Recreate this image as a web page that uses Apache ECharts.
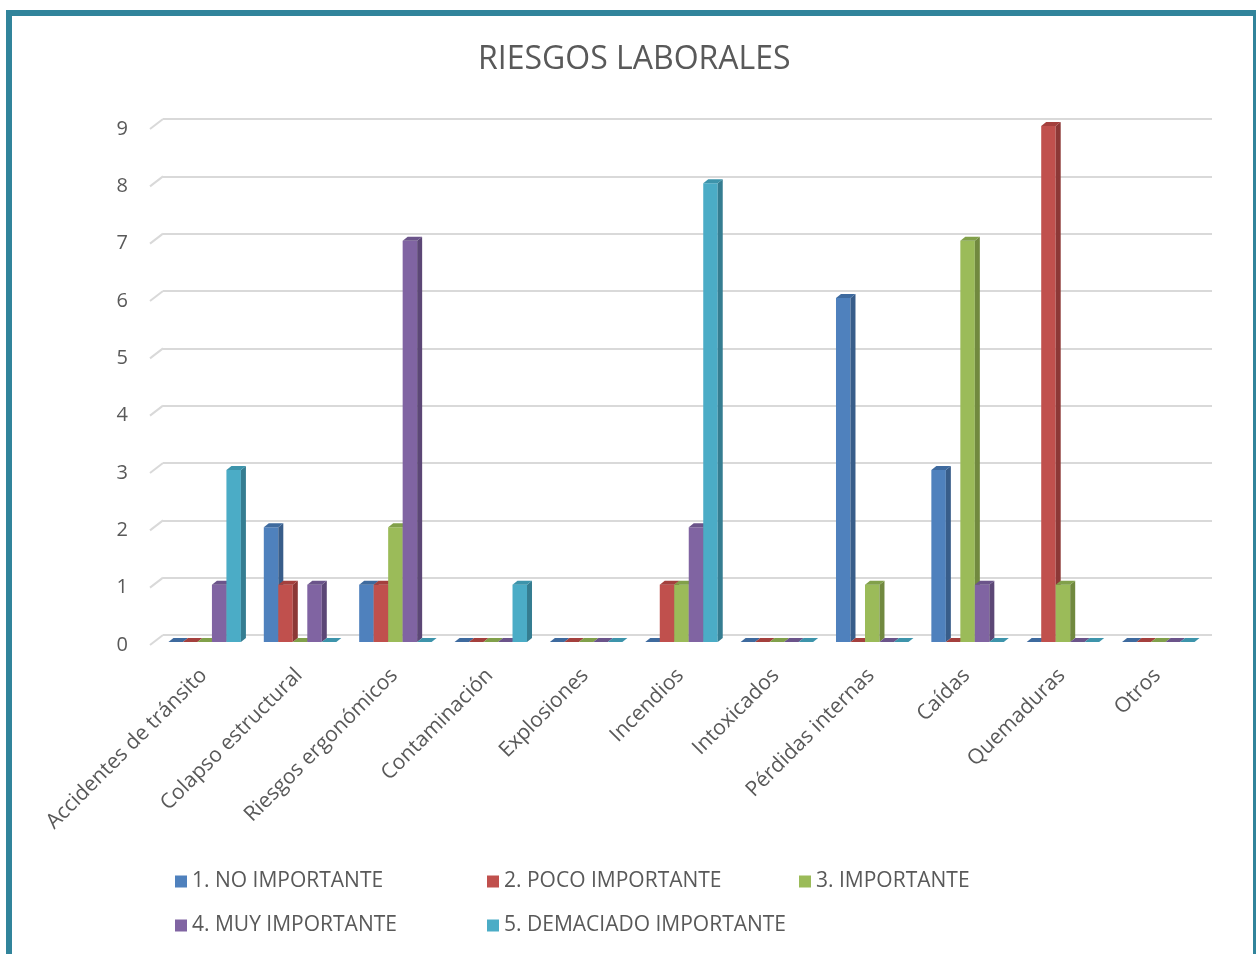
<!DOCTYPE html>
<html>
<head>
<meta charset="utf-8">
<title>Riesgos laborales</title>
<script src="https://cdn.jsdelivr.net/npm/echarts@6/dist/echarts.min.js"></script>
<style>
html, body { margin: 0; padding: 0; background: #fff; }
#frame {
	position: absolute; left: 6px; top: 10px; width: 1241px; height: 960px;
	border-top: 6px solid #31849B; border-left: 6px solid #31849B; border-right: 3px solid #31849B;
}
#chart { position: absolute; left: 0; top: 0; width: 1257px; height: 954px; }
</style>
</head>
<body>
<div id="frame"></div>
<div id="chart"></div>
<script>
var categorias = ['Accidentes de tránsito', 'Colapso estructural', 'Riesgos ergonómicos', 'Contaminación', 'Explosiones',
	'Incendios', 'Intoxicados', 'Pérdidas internas', 'Caídas', 'Quemaduras', 'Otros'];
var nombres = ['1. NO IMPORTANTE', '2. POCO IMPORTANTE', '3. IMPORTANTE', '4. MUY IMPORTANTE', '5. DEMACIADO IMPORTANTE'];
var noImportante = [0, 2, 1, 0, 0, 0, 0, 6, 3, 0, 0];
var pocoImportante = [0, 1, 1, 0, 0, 1, 0, 0, 0, 9, 0];
var importante = [0, 0, 2, 0, 0, 1, 0, 1, 7, 1, 0];
var muyImportante = [1, 1, 7, 0, 0, 2, 0, 0, 1, 0, 0];
var demaciadoImportante = [3, 0, 0, 1, 0, 8, 0, 0, 0, 0, 0];
var yTicks = [0, 1, 2, 3, 4, 5, 6, 7, 8, 9];

var valores = [noImportante, pocoImportante, importante, muyImportante, demaciadoImportante];
var colores = ['#4F81BD', '#C0504D', '#9BBB59', '#8064A2', '#4BACC6'];
var lados = ['#385D8A', '#8C3836', '#71893F', '#5C4776', '#357D91'];   // cara lateral
var tapas = ['#3E6A9E', '#A4403D', '#81A04A', '#6B548A', '#3D94AB'];   // cara superior

var SHIFT_X = -6, SHIFT_Y = 7;   // plano frontal respecto a la pared
var DX = 5, DY = 4;              // profundidad de la barra

function barra(si) {
	return function (params, api) {
		var cat = api.value(0), val = api.value(1);
		var band = api.size([1, 0])[0];
		var bw = band * 0.152;
		var p = api.coord([cat, val]);
		var b = api.coord([cat, 0]);
		var x = p[0] - 2.5 * bw + si * bw + SHIFT_X;
		var yt = p[1] + SHIFT_Y, yb = b[1] + SHIFT_Y;
		var hijos = [];
		if (yb - yt > 0.5) {
			hijos.push({
				type: 'rect',
				shape: { x: x, y: yt, width: bw, height: yb - yt },
				style: { fill: colores[si] }
			});
			hijos.push({
				type: 'polygon',
				shape: { points: [[x + bw, yt], [x + bw + DX, yt - DY], [x + bw + DX, yb - DY], [x + bw, yb]] },
				style: { fill: lados[si] }
			});
		}
		hijos.push({
			type: 'polygon',
			shape: { points: [[x, yt], [x + DX, yt - DY], [x + bw + DX, yt - DY], [x + bw, yt]] },
			style: { fill: tapas[si] }
		});
		return { type: 'group', children: hijos };
	};
}

function pared(params, api) {
	var p = api.coord([0, api.value(1)]);
	var x0 = params.coordSys.x;
	return {
		type: 'line',
		shape: { x1: x0 - 13, y1: p[1] + 10, x2: x0, y2: p[1] },
		style: { stroke: '#D9D9D9', lineWidth: 2 }
	};
}

var series = [{
	name: 'pared',
	type: 'custom',
	silent: true,
	renderItem: pared,
	data: yTicks.map(function (v) { return [0, v]; }),
	z: 1
}];
valores.forEach(function (arr, i) {
	series.push({
		name: nombres[i],
		type: 'custom',
		renderItem: barra(i),
		itemStyle: { color: colores[i] },
		data: arr.map(function (v, j) { return [j, v]; }),
		z: 2
	});
});

var legendCols = [175, 487, 799];
var legendRows = [871, 915];
var legends = nombres.map(function (n, i) {
	return {
		data: [n],
		left: legendCols[i % 3],
		top: legendRows[Math.floor(i / 3)],
		padding: 0,
		icon: 'rect',
		itemWidth: 12,
		itemHeight: 12,
		selectedMode: false,
		textStyle: { color: '#595959', fontSize: 21, fontFamily: 'Open Sans' }
	};
});

var option = {
	animation: false,
	textStyle: { fontFamily: 'Open Sans' },
	title: {
		text: 'RIESGOS LABORALES',
		left: 478,
		top: 44,
		padding: 0,
		textStyle: { fontSize: 32, fontWeight: 'normal', color: '#595959', fontFamily: 'Open Sans' }
	},
	legend: legends,
	grid: { left: 163, right: 45, top: 119, bottom: 319 },
	xAxis: {
		type: 'category',
		data: categorias,
		axisLine: { show: false },
		axisTick: { show: false },
		splitLine: { show: false },
		axisLabel: {
			interval: 0,
			rotate: 45,
			margin: 30,
			padding: [0, 10, 0, 0],
			fontSize: 21,
			color: '#595959',
			fontFamily: 'Open Sans'
		}
	},
	yAxis: {
		type: 'value',
		min: 0,
		max: 9,
		interval: 1,
		axisLine: { show: false },
		axisTick: { show: false },
		splitLine: { lineStyle: { color: '#D9D9D9', width: 2 } },
		axisLabel: {
			margin: 35,
			verticalAlign: 'top',
			fontSize: 20,
			color: '#595959',
			fontFamily: 'Open Sans'
		}
	},
	series: series
};

var chart = echarts.init(document.getElementById('chart'));
chart.setOption(option);
</script>
</body>
</html>
